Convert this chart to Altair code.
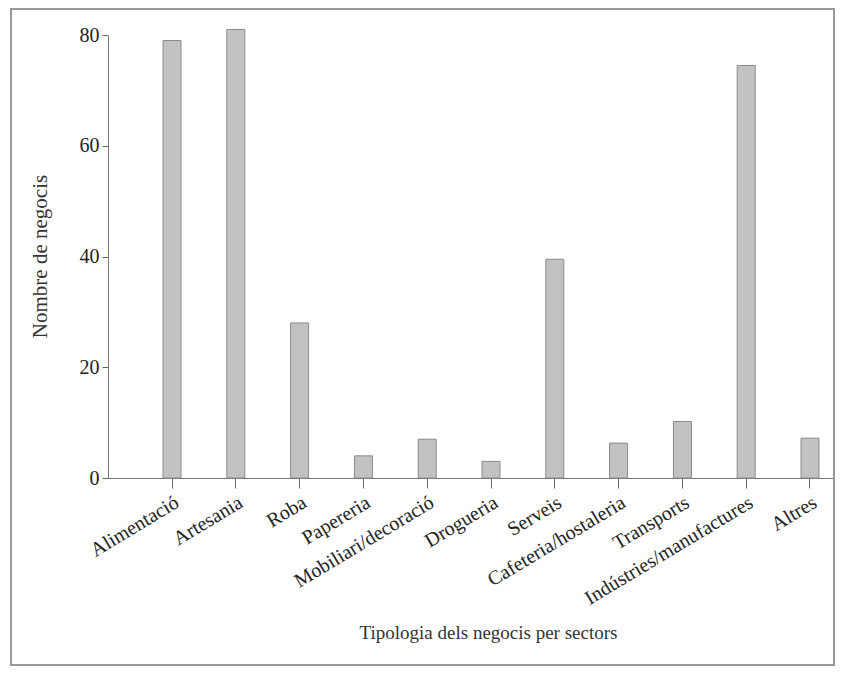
import altair as alt
import pandas as pd

sectors = ["Alimentació", "Artesania", "Roba", "Papereria", "Mobiliari/decoració",
           "Drogueria", "Serveis", "Cafeteria/hostaleria", "Transports",
           "Indústries/manufactures", "Altres"]
counts = [79, 81, 28, 4, 7, 3, 39.5, 6.3, 10.2, 74.5, 7.2]
y_ticks = [0, 20, 40, 60, 80]

df = pd.DataFrame({"sector": sectors, "n": counts})

W, H = 725, 443
FONT = "Liberation Serif"

bars = alt.Chart(df).mark_bar(
    color="#c2c2c2", stroke="#8a8a8a", strokeWidth=1
).encode(
    x=alt.X("sector:N", sort=sectors,
            scale=alt.Scale(paddingInner=0.718, paddingOuter=0.541, align=0.797),
            axis=alt.Axis(title="Tipologia dels negocis per sectors",
                          labelAngle=-31, labelFontSize=20, labelFont=FONT,
                          labelColor="#222", labelPadding=4, labelLimit=400,
                          tickSize=10, tickColor="#666", domainColor="#777",
                          titleFont=FONT, titleFontSize=19, titleFontWeight="normal",
                          titleColor="#333", titleX=380, titleY=154,
                          titleBaseline="middle", titleAnchor="middle")),
    y=alt.Y("n:Q", scale=alt.Scale(domain=[0, 80], nice=False),
            axis=alt.Axis(title="Nombre de negocis", values=y_ticks,
                          grid=False, labelFontSize=20, labelFont=FONT,
                          labelColor="#222", tickSize=6, tickColor="#666",
                          domainColor="#777", labelPadding=3,
                          titleFont=FONT, titleFontSize=21, titleFontWeight="normal",
                          titleColor="#333", titleX=-68, titleY=221, titleAngle=-90,
                          titleBaseline="middle", titleAnchor="middle")),
)

frame = alt.Chart(df).mark_rect(fill=None, stroke="#999", strokeWidth=1.5).encode(
    x=alt.value(-97), x2=alt.value(W + 1),
    y=alt.value(-26), y2=alt.value(630),
)

chart = alt.layer(bars, frame).properties(
    width=W, height=H,
    autosize=alt.AutoSizeParams(type="none"),
    padding={"left": 100, "top": 27, "right": 2, "bottom": 188},
).configure_view(stroke=None)

chart.save("out.html", embed_options={"renderer": "svg", "actions": False})
